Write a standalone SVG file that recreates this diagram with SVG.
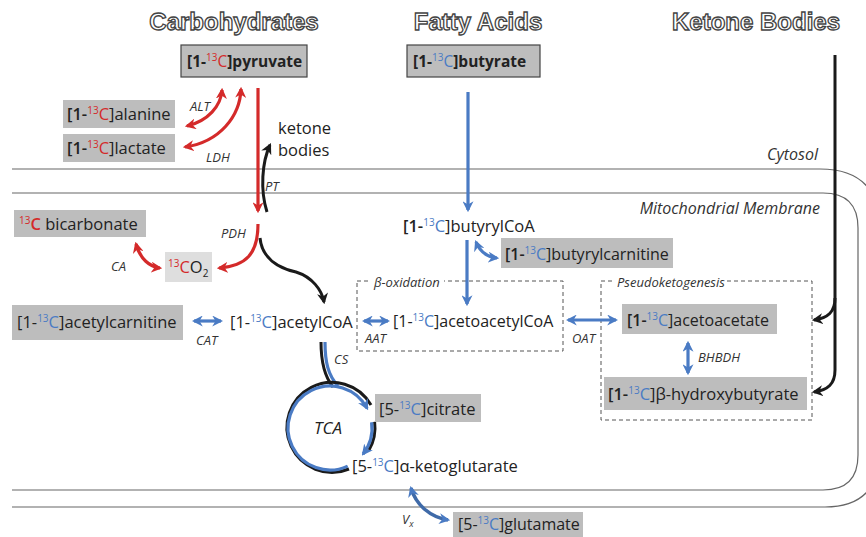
<svg xmlns="http://www.w3.org/2000/svg" width="866" height="537" viewBox="0 0 866 537">
<style>
text{font-family:"Open Sans","Noto Sans","Liberation Sans",sans-serif;fill:#222}
.hd{font-family:"Liberation Sans","Open Sans",sans-serif;font-weight:bold;font-size:24px;fill:#fff;stroke:#444;stroke-width:1.3px;text-anchor:middle}
.bx{fill:#bdbdbd}
.bxb{fill:#bdbdbd;stroke:#444;stroke-width:1.2}
.lb{font-size:16.5px}
.lb16{font-size:16px}
.lbb{font-size:15.5px;font-weight:bold}
.sm{font-size:13px;font-style:italic;fill:#333}
.it{font-size:16px;font-style:italic;fill:#333}
.r{fill:#d42a2a}
.b{fill:#4a7bc4}
.s{font-size:10px}
.mem{fill:none;stroke:#666;stroke-width:1.2}
.dash{fill:none;stroke:#555;stroke-width:1;stroke-dasharray:4 3}
.ra{fill:none;stroke:#d42a2a;stroke-width:3.2}
.ba{fill:none;stroke:#4a7bc4;stroke-width:3.2}
.ka{fill:none;stroke:#1a1a1a;stroke-width:3}
</style>
<defs>
<marker id="mr" viewBox="0 0 10 10" refX="8" refY="5" markerWidth="11" markerHeight="11" markerUnits="userSpaceOnUse" orient="auto-start-reverse"><path d="M0,0 L10,5 L0,10 L3,5z" fill="#d42a2a"/></marker>
<marker id="mb" viewBox="0 0 10 10" refX="8" refY="5" markerWidth="11" markerHeight="11" markerUnits="userSpaceOnUse" orient="auto-start-reverse"><path d="M0,0 L10,5 L0,10 L3,5z" fill="#4a7bc4"/></marker>
<marker id="mk" viewBox="0 0 10 10" refX="8" refY="5" markerWidth="11" markerHeight="11" markerUnits="userSpaceOnUse" orient="auto-start-reverse"><path d="M0,0 L10,5 L0,10 L3,5z" fill="#1a1a1a"/></marker>
</defs>

<g id="membranes">
<path class="mem" d="M12,169 H820 Q880,169 880,230 V450 Q880,507 825,507 H12"/>
<path class="mem" d="M12,193 H823 Q858,193 858,228 V455 Q858,490 823,490 H12"/>
<text class="it" x="818" y="160" text-anchor="end">Cytosol</text>
<text class="it" x="820" y="214" text-anchor="end">Mitochondrial Membrane</text>
</g>

<g id="headers">
<text class="hd" x="234" y="30">Carbohydrates</text>
<text class="hd" x="478" y="30">Fatty Acids</text>
<text class="hd" x="756" y="30">Ketone Bodies</text>
</g>

<g id="beta-oxidation">
<rect class="dash" x="357" y="281" width="206" height="70"/>
<rect x="370" y="274" width="74" height="15" fill="#fff"/>
<text class="sm" x="374" y="287">β-oxidation</text>
</g>
<g id="pseudoketogenesis">
<rect class="dash" x="601" y="281" width="211" height="139"/>
<rect x="613" y="274" width="112" height="15" fill="#fff"/>
<text class="sm" x="617" y="287">Pseudoketogenesis</text>
</g>

<g id="connectors">
<path class="ra" d="M258,88 V211" marker-end="url(#mr)"/>
<path class="ra" d="M258,224 C258,254 246,266 219,268" marker-end="url(#mr)"/>
<path class="ka" d="M260,238 C262,258 278,268 296,272 C312,277 322,290 324,302" marker-end="url(#mk)"/>
<path class="ka" d="M267,212 C260,190 262,162 270,145" marker-end="url(#mk)"/>
<path class="ra" d="M187,126 C208,121 221,106 222,90" marker-start="url(#mr)" marker-end="url(#mr)"/>
<path class="ra" d="M185,147 C220,142 240,116 241,89" marker-start="url(#mr)" marker-end="url(#mr)"/>
<path class="ra" d="M136,244 C140,259 150,267 160,268" marker-start="url(#mr)" marker-end="url(#mr)"/>
<path class="ba" d="M194,321 H221" marker-start="url(#mb)" marker-end="url(#mb)"/>
<path class="ba" d="M468,92 V210" marker-end="url(#mb)"/>
<path class="ba" d="M467,240 V304" marker-end="url(#mb)"/>
<path class="ba" d="M476,242 C480,252 487,257 497,258" marker-start="url(#mb)" marker-end="url(#mb)"/>
<path class="ba" d="M364,321 H388" marker-start="url(#mb)" marker-end="url(#mb)"/>
<path class="ba" d="M568,320 H616" marker-start="url(#mb)" marker-end="url(#mb)"/>
<path class="ba" d="M688,343 V373" marker-start="url(#mb)" marker-end="url(#mb)"/>
<path class="ka" d="M835,55 V298 C835,312 828,318 814,320" marker-end="url(#mk)"/>
<path class="ka" d="M835,298 V370 C835,384 828,390 814,392" marker-end="url(#mk)"/>
<path class="ka" d="M321,342 C321,362 324,376 333,387"/>
<path class="ba" d="M325,342 C325,362 328,375 338,386"/>
<path class="ka" d="M349,469 A45,45 0 1 1 371,405"/>
<path class="ba" d="M347.7,466.1 A42,42 0 1 1 367.1,408.3" marker-end="url(#mb)"/>
<path class="ka" d="M374.6,421.7 A45,45 0 0 1 369,450"/>
<path class="ba" d="M371.6,422.2 A42,42 0 0 1 363.1,453.9" marker-end="url(#mb)"/>
<path fill="none" stroke="#3f6aa8" stroke-width="3.5" d="M411,488 C416,505 430,517 448,520" marker-start="url(#mb)" marker-end="url(#mb)"/>
</g>

<g id="pyruvate">
<rect class="bxb" x="181" y="45" width="126" height="32"/>
<text class="lbb" x="187" y="67">[1-<tspan class="r s" dy="-6" font-weight="normal">13</tspan><tspan class="r" dy="6" font-weight="normal">C</tspan>]pyruvate</text>
</g>
<g id="butyrate">
<rect class="bxb" x="407" y="45" width="133" height="32"/>
<text class="lbb" x="413" y="67">[1-<tspan class="b s" dy="-6" font-weight="normal">13</tspan><tspan class="b" dy="6" font-weight="normal">C</tspan>]butyrate</text>
</g>
<g id="alanine">
<rect class="bx" x="63" y="100" width="112" height="28"/>
<text class="lb" x="67" y="120"><tspan font-weight="600">[1-</tspan><tspan class="r s" dy="-6">13</tspan><tspan class="r" dy="6">C</tspan>]alanine</text>
</g>
<g id="lactate">
<rect class="bx" x="63" y="134" width="112" height="28"/>
<text class="lb" x="67" y="154"><tspan font-weight="600">[1-</tspan><tspan class="r s" dy="-6">13</tspan><tspan class="r" dy="6">C</tspan>]lactate</text>
</g>
<g id="ketone-bodies-label">
<text class="lb" x="278" y="134">ketone</text>
<text class="lb" x="278" y="156">bodies</text>
</g>
<g id="bicarbonate">
<rect class="bx" x="14" y="210" width="132" height="27"/>
<text class="lb" x="19" y="230"><tspan class="r s" dy="-6">13</tspan><tspan class="r" dy="6" font-weight="600">C</tspan> bicarbonate</text>
</g>
<g id="co2">
<rect x="165" y="252" width="47" height="30" fill="#dedede"/>
<text class="lb" x="168" y="273"><tspan class="r s" dy="-6">13</tspan><tspan class="r" dy="6">C</tspan>O<tspan class="s" dy="4">2</tspan></text>
</g>
<g id="acetylcarnitine">
<rect class="bx" x="12" y="305" width="171" height="35"/>
<text class="lb" x="17" y="328">[1-<tspan class="b s" dy="-6">13</tspan><tspan class="b" dy="6">C</tspan>]acetylcarnitine</text>
</g>
<g id="acetylcoa">
<text class="lb" x="230" y="328">[1-<tspan class="b s" dy="-6">13</tspan><tspan class="b" dy="6">C</tspan>]acetylCoA</text>
</g>
<g id="butyrylcoa">
<text class="lb" x="403" y="232"><tspan font-weight="600">[1-</tspan><tspan class="b s" dy="-6">13</tspan><tspan class="b" dy="6">C</tspan>]butyrylCoA</text>
</g>
<g id="butyrylcarnitine">
<rect class="bx" x="501" y="238" width="172" height="30"/>
<text class="lb16" x="505" y="260"><tspan font-weight="600">[1-</tspan><tspan class="b s" dy="-6">13</tspan><tspan class="b" dy="6">C</tspan>]butyrylcarnitine</text>
</g>
<g id="acetoacetylcoa">
<text class="lb16" x="393" y="327">[1-<tspan class="b s" dy="-6">13</tspan><tspan class="b" dy="6">C</tspan>]acetoacetylCoA</text>
</g>
<g id="acetoacetate">
<rect class="bx" x="622" y="304" width="155" height="30"/>
<text class="lb16" x="627" y="326"><tspan font-weight="600">[1-</tspan><tspan class="b s" dy="-6">13</tspan><tspan class="b" dy="6">C</tspan>]acetoacetate</text>
</g>
<g id="hydroxybutyrate">
<rect class="bx" x="604" y="377" width="203" height="33"/>
<text class="lb" x="608" y="400"><tspan font-weight="600">[1-</tspan><tspan class="b s" dy="-6">13</tspan><tspan class="b" dy="6">C</tspan>]β-hydroxybutyrate</text>
</g>
<g id="citrate">
<rect class="bx" x="375" y="394" width="106" height="28"/>
<text class="lb" x="379" y="415">[5-<tspan class="b s" dy="-6">13</tspan><tspan class="b" dy="6">C</tspan>]citrate</text>
</g>
<g id="ketoglutarate">
<text class="lb" x="352" y="472">[5-<tspan class="b s" dy="-6">13</tspan><tspan class="b" dy="6">C</tspan>]α-ketoglutarate</text>
</g>
<g id="glutamate">
<rect class="bx" x="453" y="512" width="130" height="25"/>
<text class="lb16" x="458" y="530">[5-<tspan class="b s" dy="-6">13</tspan><tspan class="b" dy="6">C</tspan>]glutamate</text>
</g>

<g id="labels">
<text class="sm" x="190" y="111">ALT</text>
<text class="sm" x="206" y="162">LDH</text>
<text class="sm" x="265" y="191">PT</text>
<text class="sm" x="221" y="238">PDH</text>
<text class="sm" x="111" y="271">CA</text>
<text class="sm" x="196" y="345">CAT</text>
<text class="sm" x="334" y="364">CS</text>
<text class="sm" x="365" y="343">AAT</text>
<text class="sm" x="572" y="343">OAT</text>
<text class="sm" x="698" y="362">BHBDH</text>
<text x="314" y="434" font-size="17" font-style="italic" fill="#222">TCA</text>
<text class="sm" x="402" y="524">V<tspan font-size="9" dy="3">x</tspan></text>
</g>
</svg>
